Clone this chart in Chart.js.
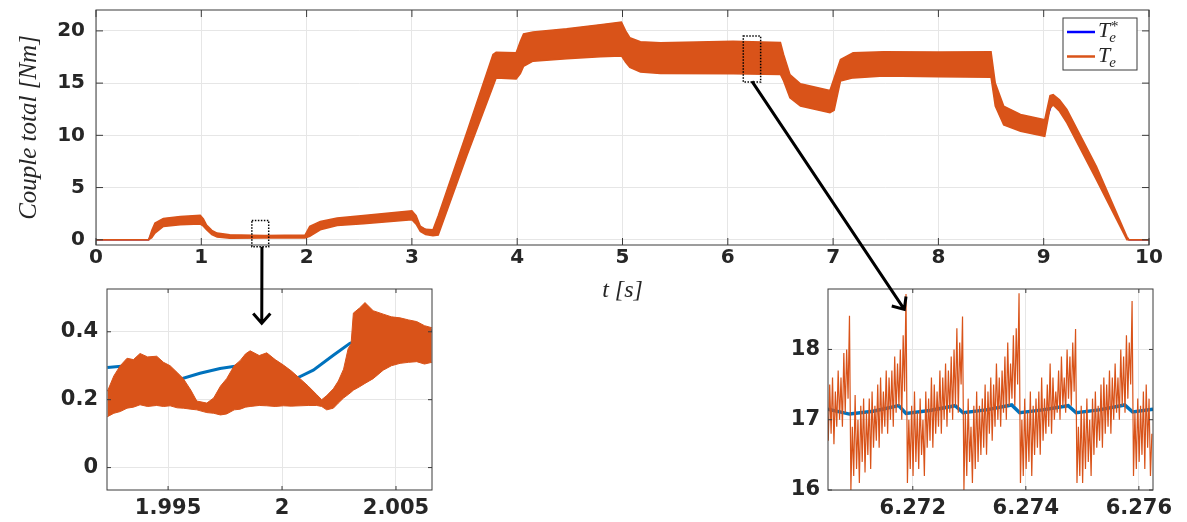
<!DOCTYPE html>
<html>
<head>
<meta charset="utf-8">
<script src="https://cdn.jsdelivr.net/npm/chart.js@4.4.1/dist/chart.umd.min.js"></script>
<style>
  body { margin: 0; background: #fff; }
  #wrap { position: relative; width: 1187px; height: 522px; }
  #wrap canvas { position: absolute; left: 0; top: 0; }
</style>
</head>
<body>
<div id="wrap">
  <canvas id="mainChart" width="1187" height="522"></canvas>
  <canvas id="zoomLeft" width="1187" height="522"></canvas>
  <canvas id="zoomRight" width="1187" height="522"></canvas>
  <canvas id="overlay" width="1187" height="522"></canvas>
</div>
<script>
// --- main plot : envelope of Te (orange band) and reference Te* ---
const mainTime  = [0, 0.50, 0.53, 0.56, 0.64, 0.80, 0.99, 1.02, 1.05, 1.10, 1.15, 1.27, 1.60, 1.985, 2.03, 2.13, 2.29, 2.54, 3.00, 3.04, 3.08, 3.13, 3.20, 3.25, 3.52, 3.77, 3.80, 3.99, 4.03, 4.06, 4.15, 4.47, 4.79, 4.99, 5.03, 5.07, 5.17, 5.36, 6.05, 6.50, 6.53, 6.59, 6.69, 6.97, 7.01, 7.07, 7.19, 7.48, 8.00, 8.50, 8.54, 8.62, 8.78, 9.01, 9.06, 9.09, 9.15, 9.22, 9.50, 9.79, 9.81, 10];
const mainUpper = [0, 0, 0.9, 1.6, 2.05, 2.24, 2.35, 2.0, 1.4, 0.9, 0.64, 0.48, 0.42, 0.45, 1.28, 1.76, 2.08, 2.33, 2.78, 2.3, 1.3, 1.0, 0.96, 2.3, 10.24, 17.75, 17.95, 17.9, 19.0, 19.7, 19.9, 20.2, 20.6, 20.85, 20.0, 19.35, 18.97, 18.87, 19.0, 18.9, 17.75, 15.83, 14.94, 14.3, 15.5, 17.27, 17.9, 18.0, 17.98, 18.0, 15.0, 12.8, 12.0, 11.5, 13.8, 13.9, 13.4, 12.48, 7.04, 0.3, 0, 0];
const mainLower = [0, 0, 0.2, 0.64, 1.28, 1.44, 1.5, 1.3, 0.96, 0.5, 0.26, 0.15, 0.17, 0.18, 0.32, 0.96, 1.37, 1.53, 1.92, 1.5, 0.8, 0.5, 0.38, 0.45, 8.0, 14.68, 15.5, 15.4, 15.9, 16.6, 17.1, 17.34, 17.53, 17.6, 17.0, 16.5, 16.06, 15.93, 15.9, 15.83, 15.2, 13.6, 12.8, 12.16, 12.4, 15.2, 15.5, 15.67, 15.6, 15.55, 12.8, 11.0, 10.4, 9.9, 12.6, 12.9, 12.3, 11.2, 5.76, 0, 0, 0];
const refTime   = [0, 0.5, 0.56, 0.7, 1.0, 1.06, 1.2, 2.0, 2.06, 2.3, 3.0, 3.08, 3.2, 3.8, 4.0, 4.08, 5.0, 5.1, 6.5, 6.58, 7.0, 7.1, 8.5, 8.56, 8.62, 9.0, 9.09, 9.22, 9.5, 9.79, 9.81, 10];
const refTorque = [0, 0, 1.3, 1.8, 1.95, 1.0, 0.35, 0.3, 1.0, 1.7, 2.3, 1.2, 0.65, 16.7, 16.7, 18.2, 19.2, 17.6, 17.4, 15.0, 13.3, 16.4, 16.8, 13.6, 11.9, 10.7, 13.35, 11.8, 6.4, 0.15, 0, 0];
const mainXTicks = [0, 1, 2, 3, 4, 5, 6, 7, 8, 9, 10];
const mainYTicks = [0, 5, 10, 15, 20];

// --- left zoom (around t = 2 s) ---
const leftTime  = [1.99234, 1.99262, 1.99290, 1.99320, 1.99348, 1.99377, 1.99410, 1.99450, 1.99480, 1.99509, 1.99540, 1.99567, 1.99600, 1.99626, 1.99670, 1.99700, 1.99730, 1.99757, 1.99790, 1.99816, 1.99840, 1.99860, 1.99900, 1.99933, 1.99970, 2.00006, 2.00040, 2.00079, 2.00115, 2.00152, 2.00174, 2.00196, 2.00225, 2.00247, 2.00270, 2.00290, 2.00303, 2.00313, 2.00340, 2.00364, 2.00400, 2.00444, 2.00480, 2.00518, 2.00555, 2.00591, 2.00625, 2.00657];
const leftUpper = [0.225, 0.27, 0.30, 0.322, 0.318, 0.336, 0.326, 0.328, 0.31, 0.300, 0.28, 0.262, 0.228, 0.196, 0.19, 0.205, 0.24, 0.262, 0.30, 0.315, 0.335, 0.344, 0.33, 0.338, 0.318, 0.302, 0.285, 0.262, 0.24, 0.215, 0.20, 0.212, 0.232, 0.255, 0.29, 0.35, 0.365, 0.455, 0.47, 0.486, 0.462, 0.452, 0.444, 0.441, 0.435, 0.43, 0.418, 0.412];
const leftLower = [0.15, 0.16, 0.165, 0.175, 0.178, 0.185, 0.18, 0.183, 0.18, 0.182, 0.176, 0.175, 0.172, 0.17, 0.162, 0.16, 0.155, 0.158, 0.17, 0.172, 0.178, 0.18, 0.183, 0.182, 0.18, 0.182, 0.181, 0.182, 0.183, 0.183, 0.18, 0.17, 0.175, 0.19, 0.205, 0.215, 0.222, 0.228, 0.238, 0.248, 0.262, 0.287, 0.30, 0.307, 0.31, 0.312, 0.305, 0.31];
const leftRefTime = [1.99234, 1.99319, 1.99380, 1.99450, 1.99510, 1.99560, 1.99640, 1.99728, 1.99816, 1.99880, 1.99940, 2.00000, 2.00064, 2.00137, 2.00225, 2.00298, 2.00380, 2.00480, 2.00580, 2.00657];
const leftRef     = [0.295, 0.300, 0.295, 0.28, 0.265, 0.262, 0.278, 0.292, 0.301, 0.298, 0.285, 0.268, 0.263, 0.287, 0.331, 0.366, 0.385, 0.395, 0.40, 0.403];
const leftXTicks = [1.995, 2, 2.005];
const leftYTicks = [0, 0.2, 0.4];

// --- right zoom (around t = 6.274 s), Te sampled every 25 us ---
const rightStart = 6.27048, rightStep = 0.000025;
const rightTorque = [
  17.3, 16.7, 17.5, 16.8, 17.6, 16.65, 17.4, 16.9, 17.7, 17.0, 17.6, 16.9, 17.95, 17.1, 18.0, 17.3,
  18.48,
  16.0, 16.9, 16.2, 17.35, 16.3, 17.0, 16.1, 17.2, 16.4, 17.3, 16.25, 17.1, 16.5, 17.3, 16.3, 17.4, 16.6, 17.2, 16.7, 17.5,
  16.6, 17.6, 16.8, 17.4, 16.9, 17.7, 16.8, 17.6, 17.0, 17.7, 16.9, 17.9, 17.1, 17.8, 17.2, 18.0, 17.0, 18.2, 17.4,
  18.79,
  16.1, 17.0, 16.3, 17.2, 16.2, 17.4, 16.4, 17.1, 16.3, 17.3, 16.5, 17.0, 16.2, 17.4, 16.6, 17.3, 16.7, 17.6, 16.6, 17.5,
  16.8, 17.4, 16.9, 17.7, 16.8, 17.6, 17.0, 17.8, 16.9, 17.7, 17.1, 17.9, 17.0, 18.0, 17.2, 18.3, 17.1, 18.1, 17.5,
  18.47,
  16.0, 17.1, 16.2, 17.3, 16.4, 16.9, 16.1, 17.2, 16.3, 17.4, 16.4, 17.2, 16.5, 17.3, 16.6, 17.5, 16.5, 17.4, 16.8, 17.6,
  16.7, 17.5, 16.9, 17.8, 17.0, 17.6, 16.9, 17.7, 17.1, 17.9, 17.0, 18.1, 17.2, 17.8, 17.3, 18.2, 17.2, 18.3, 17.5,
  18.8,
  16.1, 17.0, 16.2, 17.3, 16.3, 17.1, 16.4, 17.4, 16.2, 17.2, 16.5, 17.3, 16.6, 17.4, 16.5, 17.6, 16.7, 17.3, 16.8, 17.5,
  16.9, 17.8, 16.8, 17.6, 17.0, 17.4, 17.1, 17.7, 17.0, 17.9, 17.2, 17.6, 17.1, 18.0, 17.3, 17.9, 17.2, 18.1, 17.4,
  18.29,
  16.1, 16.9, 16.2, 17.2, 16.1, 17.1, 16.3, 17.3, 16.4, 17.0, 16.2, 17.3, 16.5, 17.4, 16.6, 17.2, 16.7, 17.5, 16.6, 17.6,
  16.8, 17.5, 16.9, 17.7, 16.8, 17.6, 17.0, 17.8, 17.1, 17.6, 17.0, 18.0, 17.2, 17.9, 17.1, 18.2, 17.3, 18.1, 17.5,
  18.69,
  16.2, 17.1, 16.3, 17.3, 16.4, 17.2, 16.5, 17.4, 16.3, 17.5, 16.6, 17.3, 16.2, 16.8
];
const rightRefTime = [6.2705, 6.27088, 6.2713, 6.27175, 6.27188, 6.2723, 6.27275, 6.27289, 6.2733, 6.27375, 6.27389, 6.2743, 6.27475, 6.27489, 6.2753, 6.27575, 6.27589, 6.27625];
const rightRef     = [17.15, 17.08, 17.12, 17.2, 17.09, 17.13, 17.2, 17.1, 17.14, 17.21, 17.1, 17.14, 17.2, 17.1, 17.14, 17.21, 17.11, 17.15];
const rightXTicks = [6.272, 6.274, 6.276];
const rightYTicks = [16, 17, 18];

// --- annotations (data coordinates) ---
const zoomBoxT = [[1.48, 1.64], [6.147, 6.312]];
const zoomBoxV = [[-0.67, 1.85], [15.1, 19.5]];
const arrowFrom = [[1.576, -0.67], [6.23, 15.16]];
const arrowTo   = [[1.99911, 0.425], [6.27185, 18.57]];

const ORANGE = '#D95319', BLUE = '#0072BD', REF_BLUE = '#0000ff';
const GRID = '#e6e6e6', INK = '#262626', FRAME = '#3a3a3a';
Chart.defaults.font.family = 'DejaVu Sans';

const pts = (xs, ys) => xs.map((x, i) => ({ x, y: ys[i] }));
const fixedTicks = vals => scale => { scale.ticks = vals.map(v => ({ value: v })); };

// MATLAB style box with inward ticks on all four sides
const matlabFrame = {
  id: 'matlabFrame',
  afterDraw(chart, args, opts) {
    const { ctx, chartArea: a, scales: { x, y } } = chart;
    const L = opts.tickLen;
    ctx.save();
    ctx.strokeStyle = FRAME;
    ctx.lineWidth = 1;
    ctx.strokeRect(a.left, a.top, a.width, a.height);
    ctx.beginPath();
    x.ticks.forEach(t => {
      const px = x.getPixelForValue(t.value);
      ctx.moveTo(px, a.bottom); ctx.lineTo(px, a.bottom - L);
      ctx.moveTo(px, a.top); ctx.lineTo(px, a.top + L);
    });
    y.ticks.forEach(t => {
      const py = y.getPixelForValue(t.value);
      ctx.moveTo(a.left, py); ctx.lineTo(a.left + L, py);
      ctx.moveTo(a.right, py); ctx.lineTo(a.right - L, py);
    });
    ctx.stroke();
    ctx.restore();
  }
};

// legend with T_e^* style labels
const mathLegend = {
  id: 'mathLegend',
  afterDraw(chart, args, opts) {
    const { ctx, chartArea: a } = chart;
    const items = chart.data.datasets.filter(d => d.label);
    const bx = a.right - opts.right - opts.width, by = a.top + opts.top;
    ctx.save();
    ctx.fillStyle = '#fff';
    ctx.fillRect(bx, by, opts.width, opts.height);
    ctx.strokeStyle = FRAME;
    ctx.lineWidth = 1;
    ctx.strokeRect(bx, by, opts.width, opts.height);
    items.forEach((d, i) => {
      const cy = by + opts.firstRow + i * opts.rowGap;
      ctx.strokeStyle = d.borderColor;
      ctx.lineWidth = 2.5;
      ctx.beginPath(); ctx.moveTo(bx + 4, cy); ctx.lineTo(bx + 32, cy); ctx.stroke();
      const m = /^(\w)(?:_(\w))?(?:\^(.))?$/.exec(d.label);
      const base = cy + 5;
      let x = bx + 35;
      ctx.fillStyle = INK;
      ctx.font = 'italic 22px "Liberation Serif"';
      ctx.fillText(m[1], x, base);
      x += ctx.measureText(m[1]).width;
      ctx.font = 'italic 15px "Liberation Serif"';
      if (m[2]) ctx.fillText(m[2], x - 1, base + 5);
      if (m[3]) ctx.fillText(m[3], x, base - 6);
    });
    ctx.restore();
  }
};

function axes(o) {
  return {
    x: {
      type: 'linear', min: o.xMin, max: o.xMax,
      afterBuildTicks: fixedTicks(o.xTicks),
      afterFit: s => { s.height = o.xHeight; s.paddingLeft = 0; s.paddingRight = 0; },
      grid: { color: GRID, drawTicks: false },
      border: { display: false },
      ticks: { color: INK, font: o.font, padding: o.xPad, maxRotation: 0, autoSkip: false, callback: v => String(v) },
      title: o.xTitle || { display: false }
    },
    y: {
      type: 'linear', min: o.yMin, max: o.yMax,
      afterBuildTicks: fixedTicks(o.yTicks),
      afterFit: s => { s.width = o.yWidth; s.paddingTop = 0; s.paddingBottom = 0; },
      grid: { color: GRID, drawTicks: false },
      border: { display: false },
      ticks: { color: INK, font: o.font, padding: o.yPad, autoSkip: false, callback: v => String(v) },
      title: o.yTitle || { display: false }
    }
  };
}

function baseOptions(padding, scales, extra) {
  return {
    responsive: false,
    animation: false,
    devicePixelRatio: 1,
    layout: { padding },
    elements: { point: { radius: 0 }, line: { tension: 0 } },
    scales,
    plugins: Object.assign({ legend: { display: false }, tooltip: { enabled: false } }, extra)
  };
}

const mainChart = new Chart(document.getElementById('mainChart'), {
  type: 'line',
  data: {
    datasets: [
      { label: 'T_e^*', data: pts(refTime, refTorque), borderColor: REF_BLUE, borderWidth: 1.5, order: 1 },
      { label: 'T_e', data: pts(mainTime, mainUpper), borderColor: ORANGE, borderWidth: 1.5, order: 0 },
      { label: '', data: pts(mainTime, mainLower), borderColor: ORANGE, backgroundColor: ORANGE, borderWidth: 1.5, fill: '-1', order: 0 }
    ]
  },
  options: baseOptions(
    { left: 0, top: 10, right: 38, bottom: 215 },
    axes({
      xMin: 0, xMax: 10, yMin: -0.5, yMax: 22,
      xTicks: mainXTicks, yTicks: mainYTicks,
      xHeight: 62, yWidth: 96, xPad: 1, yPad: 11,
      font: { family: 'DejaVu Sans', weight: 'bold', size: 20 },
      xTitle: { display: true, text: 't [s]', color: INK, padding: { top: 0, bottom: 2 },
                font: { family: 'Liberation Serif', style: 'italic', size: 24, weight: 'normal' } },
      yTitle: { display: true, text: 'Couple total [Nm]', color: INK, padding: { top: 14, bottom: 0 },
                font: { family: 'Liberation Serif', style: 'italic', size: 25, weight: 'normal' } }
    }),
    {
      matlabFrame: { tickLen: 7 },
      mathLegend: { right: 12, top: 8, width: 74, height: 52, firstRow: 14, rowGap: 24.5 }
    }
  ),
  plugins: [matlabFrame, mathLegend]
});

const insetFont = { family: 'DejaVu Sans', weight: 'bold', size: 21 };

const leftChart = new Chart(document.getElementById('zoomLeft'), {
  type: 'line',
  data: {
    datasets: [
      { label: 'T_e^*', data: pts(leftRefTime, leftRef), borderColor: BLUE, borderWidth: 3, order: 1 },
      { label: 'T_e', data: pts(leftTime, leftUpper), borderColor: ORANGE, borderWidth: 1, order: 0 },
      { label: '', data: pts(leftTime, leftLower), borderColor: ORANGE, backgroundColor: ORANGE, borderWidth: 1, fill: '-1', order: 0 }
    ]
  },
  options: baseOptions(
    { left: 47, top: 289, right: 755, bottom: 0 },
    axes({
      xMin: 1.99232, xMax: 2.00658, yMin: -0.066, yMax: 0.526,
      xTicks: leftXTicks, yTicks: leftYTicks,
      xHeight: 32, yWidth: 60, xPad: 6, yPad: 9, font: insetFont
    }),
    { matlabFrame: { tickLen: 4 } }
  ),
  plugins: [matlabFrame]
});

const rightTime = rightTorque.map((_, i) => rightStart + i * rightStep);
const rightChart = new Chart(document.getElementById('zoomRight'), {
  type: 'line',
  data: {
    datasets: [
      { label: 'T_e^*', data: pts(rightRefTime, rightRef), borderColor: BLUE, borderWidth: 3.5, order: 1 },
      { label: 'T_e', data: pts(rightTime, rightTorque), borderColor: ORANGE, borderWidth: 1.2, order: 0 }
    ]
  },
  options: baseOptions(
    { left: 768, top: 289, right: 34, bottom: 0 },
    axes({
      xMin: 6.2705, xMax: 6.27625, yMin: 16, yMax: 18.86,
      xTicks: rightXTicks, yTicks: rightYTicks,
      xHeight: 32, yWidth: 60, xPad: 6, yPad: 8, font: insetFont
    }),
    { matlabFrame: { tickLen: 4 } }
  ),
  plugins: [matlabFrame]
});

// dotted zoom boxes and arrows on top of everything
const ov = document.getElementById('overlay').getContext('2d');
const toPx = (chart, t, v) => [chart.scales.x.getPixelForValue(t), chart.scales.y.getPixelForValue(v)];

ov.strokeStyle = '#000';
ov.lineWidth = 1.5;
ov.setLineDash([1.5, 1.5]);
zoomBoxT.forEach((tr, i) => {
  const [x1, y1] = toPx(mainChart, tr[0], zoomBoxV[i][1]);
  const [x2, y2] = toPx(mainChart, tr[1], zoomBoxV[i][0]);
  ov.strokeRect(x1, y1, x2 - x1, y2 - y1);
});
ov.setLineDash([]);

const targets = [leftChart, rightChart];
ov.lineWidth = 3;
arrowFrom.forEach((f, i) => {
  const [x1, y1] = toPx(mainChart, f[0], f[1]);
  const [x2, y2] = toPx(targets[i], arrowTo[i][0], arrowTo[i][1]);
  const ang = Math.atan2(y2 - y1, x2 - x1), len = 13, spread = 0.72;
  ov.beginPath();
  ov.moveTo(x1, y1); ov.lineTo(x2, y2);
  ov.moveTo(x2 - len * Math.cos(ang - spread), y2 - len * Math.sin(ang - spread));
  ov.lineTo(x2, y2);
  ov.lineTo(x2 - len * Math.cos(ang + spread), y2 - len * Math.sin(ang + spread));
  ov.stroke();
});
</script>
</body>
</html>
